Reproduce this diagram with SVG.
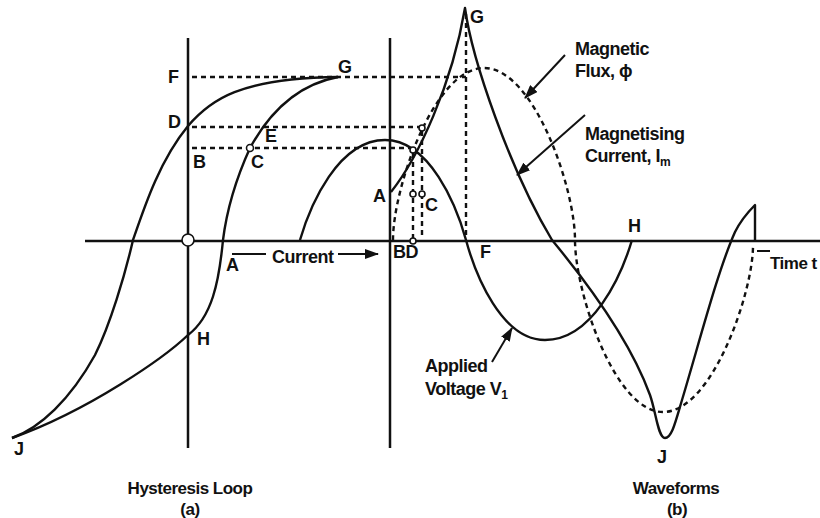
<svg xmlns="http://www.w3.org/2000/svg" width="820" height="518" viewBox="0 0 820 518">
<defs>
<style>
.ax{stroke:#111;stroke-width:2.5;fill:none}
.cv{stroke:#111;stroke-width:2.4;fill:none;stroke-linejoin:round}
.dt{stroke:#111;stroke-width:2.4;fill:none;stroke-dasharray:5 4}
.pt{stroke:#111;stroke-width:1.6;fill:#fff}
.ar{stroke:#111;stroke-width:2;fill:none}
.lbl{font-family:"Liberation Sans",Arial,sans-serif;font-weight:bold;font-size:18px;letter-spacing:-0.5px;fill:#111}
.cap{font-size:17px}
.sub{font-size:12px}
.mid{text-anchor:middle}
</style>
<marker id="ah" markerUnits="userSpaceOnUse" markerWidth="14" markerHeight="10" viewBox="0 0 14 10" refX="13" refY="5" orient="auto">
<path d="M0,0 L14,5 L0,10 z" fill="#111"/>
</marker>
</defs>
<rect width="820" height="518" fill="#fff"/>

<g id="axes">
<path class="ax" d="M85,241 H820"/>
<path class="ax" d="M188,38 V448"/>
<path class="ax" d="M390,38 V448"/>
</g>

<g id="guides">
<path class="dt" d="M192,77 H466"/>
<path class="dt" d="M192,127 H419"/>
<path class="dt" d="M192,148 H410"/>
<path class="dt" d="M466,14 V238"/>
<path class="dt" d="M413,153 V238"/>
<path class="dt" d="M422,131 V238"/>
<path class="ar" d="M757,251 H770"/>
</g>

<g id="hysteresis-loop">
<path class="cv" d="M12,438 C40,428 70,400 95,355 C110,325 125,275 133,240 C145,205 160,160 188,126 C210,100 240,78 338,77"/>
<path class="cv" d="M338,77 C295,85 268,115 250,148 C240,170 228,200 223,240 C219,282 212,317 188,335 C165,357 90,410 12,438"/>
<circle class="pt" cx="188" cy="240" r="6"/>
<circle class="pt" cx="250" cy="148" r="3.5"/>
</g>

<g id="applied-voltage">
<path class="cv" d="M300,240 C310.2,205 338.25,140 385,140 C429.55,140 456.3,205 466,240 C475.5,275 501.55,340 545,340 C592.85,340 621.6,275 632,240"/>
</g>

<g id="magnetic-flux">
<path class="dt" d="M393,240 C393,188.4 433.95,68 484,68 C534.05,68 575,188.4 575,240 C575,291.6 614.6,412 663,412 C712.5,412 753,291.6 753,246"/>
</g>

<g id="magnetising-current">
<path class="cv" d="M391,192 C418,158 452,85 465,8 C472,60 510,170 552,240 C585,280 630,340 650,395 C656,412 658,438 665,438 C672,438 676,420 682,400 C700,340 718,270 735,232 C742,218 750,210 755,205 L755,241"/>
</g>

<g id="points">
<circle class="pt" cx="422" cy="128" r="3"/>
<circle class="pt" cx="413" cy="150" r="3"/>
<circle class="pt" cx="413" cy="194" r="3"/>
<circle class="pt" cx="422" cy="194" r="3"/>
<circle class="pt" cx="413" cy="241" r="3"/>
</g>

<g id="connectors">
<path class="ar" d="M232,254 H266"/>
<path class="ar" d="M338,254 H378" marker-end="url(#ah)"/>
<path class="ar" d="M565,55 L525,98" marker-end="url(#ah)"/>
<path class="ar" d="M585,115 L517,175" marker-end="url(#ah)"/>
<path class="ar" d="M492,362 L512,328" marker-end="url(#ah)"/>
</g>

<g id="labels" class="lbl">
<text x="168" y="83">F</text>
<text x="168" y="128">D</text>
<text x="193" y="168">B</text>
<text x="251" y="168">C</text>
<text x="265" y="142">E</text>
<text x="338" y="73">G</text>
<text x="226" y="271">A</text>
<text x="197" y="345">H</text>
<text x="14" y="455">J</text>
<text x="272" y="263">Current</text>
<text class="mid cap" x="190" y="494">Hysteresis Loop</text>
<text class="mid cap" x="190" y="515">(a)</text>

<text x="470" y="23">G</text>
<text x="575" y="55">Magnetic</text>
<text x="575" y="77">Flux, ϕ</text>
<text x="585" y="140">Magnetising</text>
<text x="585" y="162">Current, I<tspan class="sub" dy="4">m</tspan></text>
<text x="373" y="202">A</text>
<text x="425" y="211">C</text>
<text x="393" y="258">BD</text>
<text x="480" y="258">F</text>
<text x="628" y="232">H</text>
<text class="cap" x="770" y="269">Time t</text>
<text x="425" y="372">Applied</text>
<text x="425" y="395">Voltage V<tspan class="sub" dy="4">1</tspan></text>
<text x="657" y="463">J</text>
<text class="mid cap" x="676" y="494">Waveforms</text>
<text class="mid cap" x="677" y="515">(b)</text>
</g>
</svg>
